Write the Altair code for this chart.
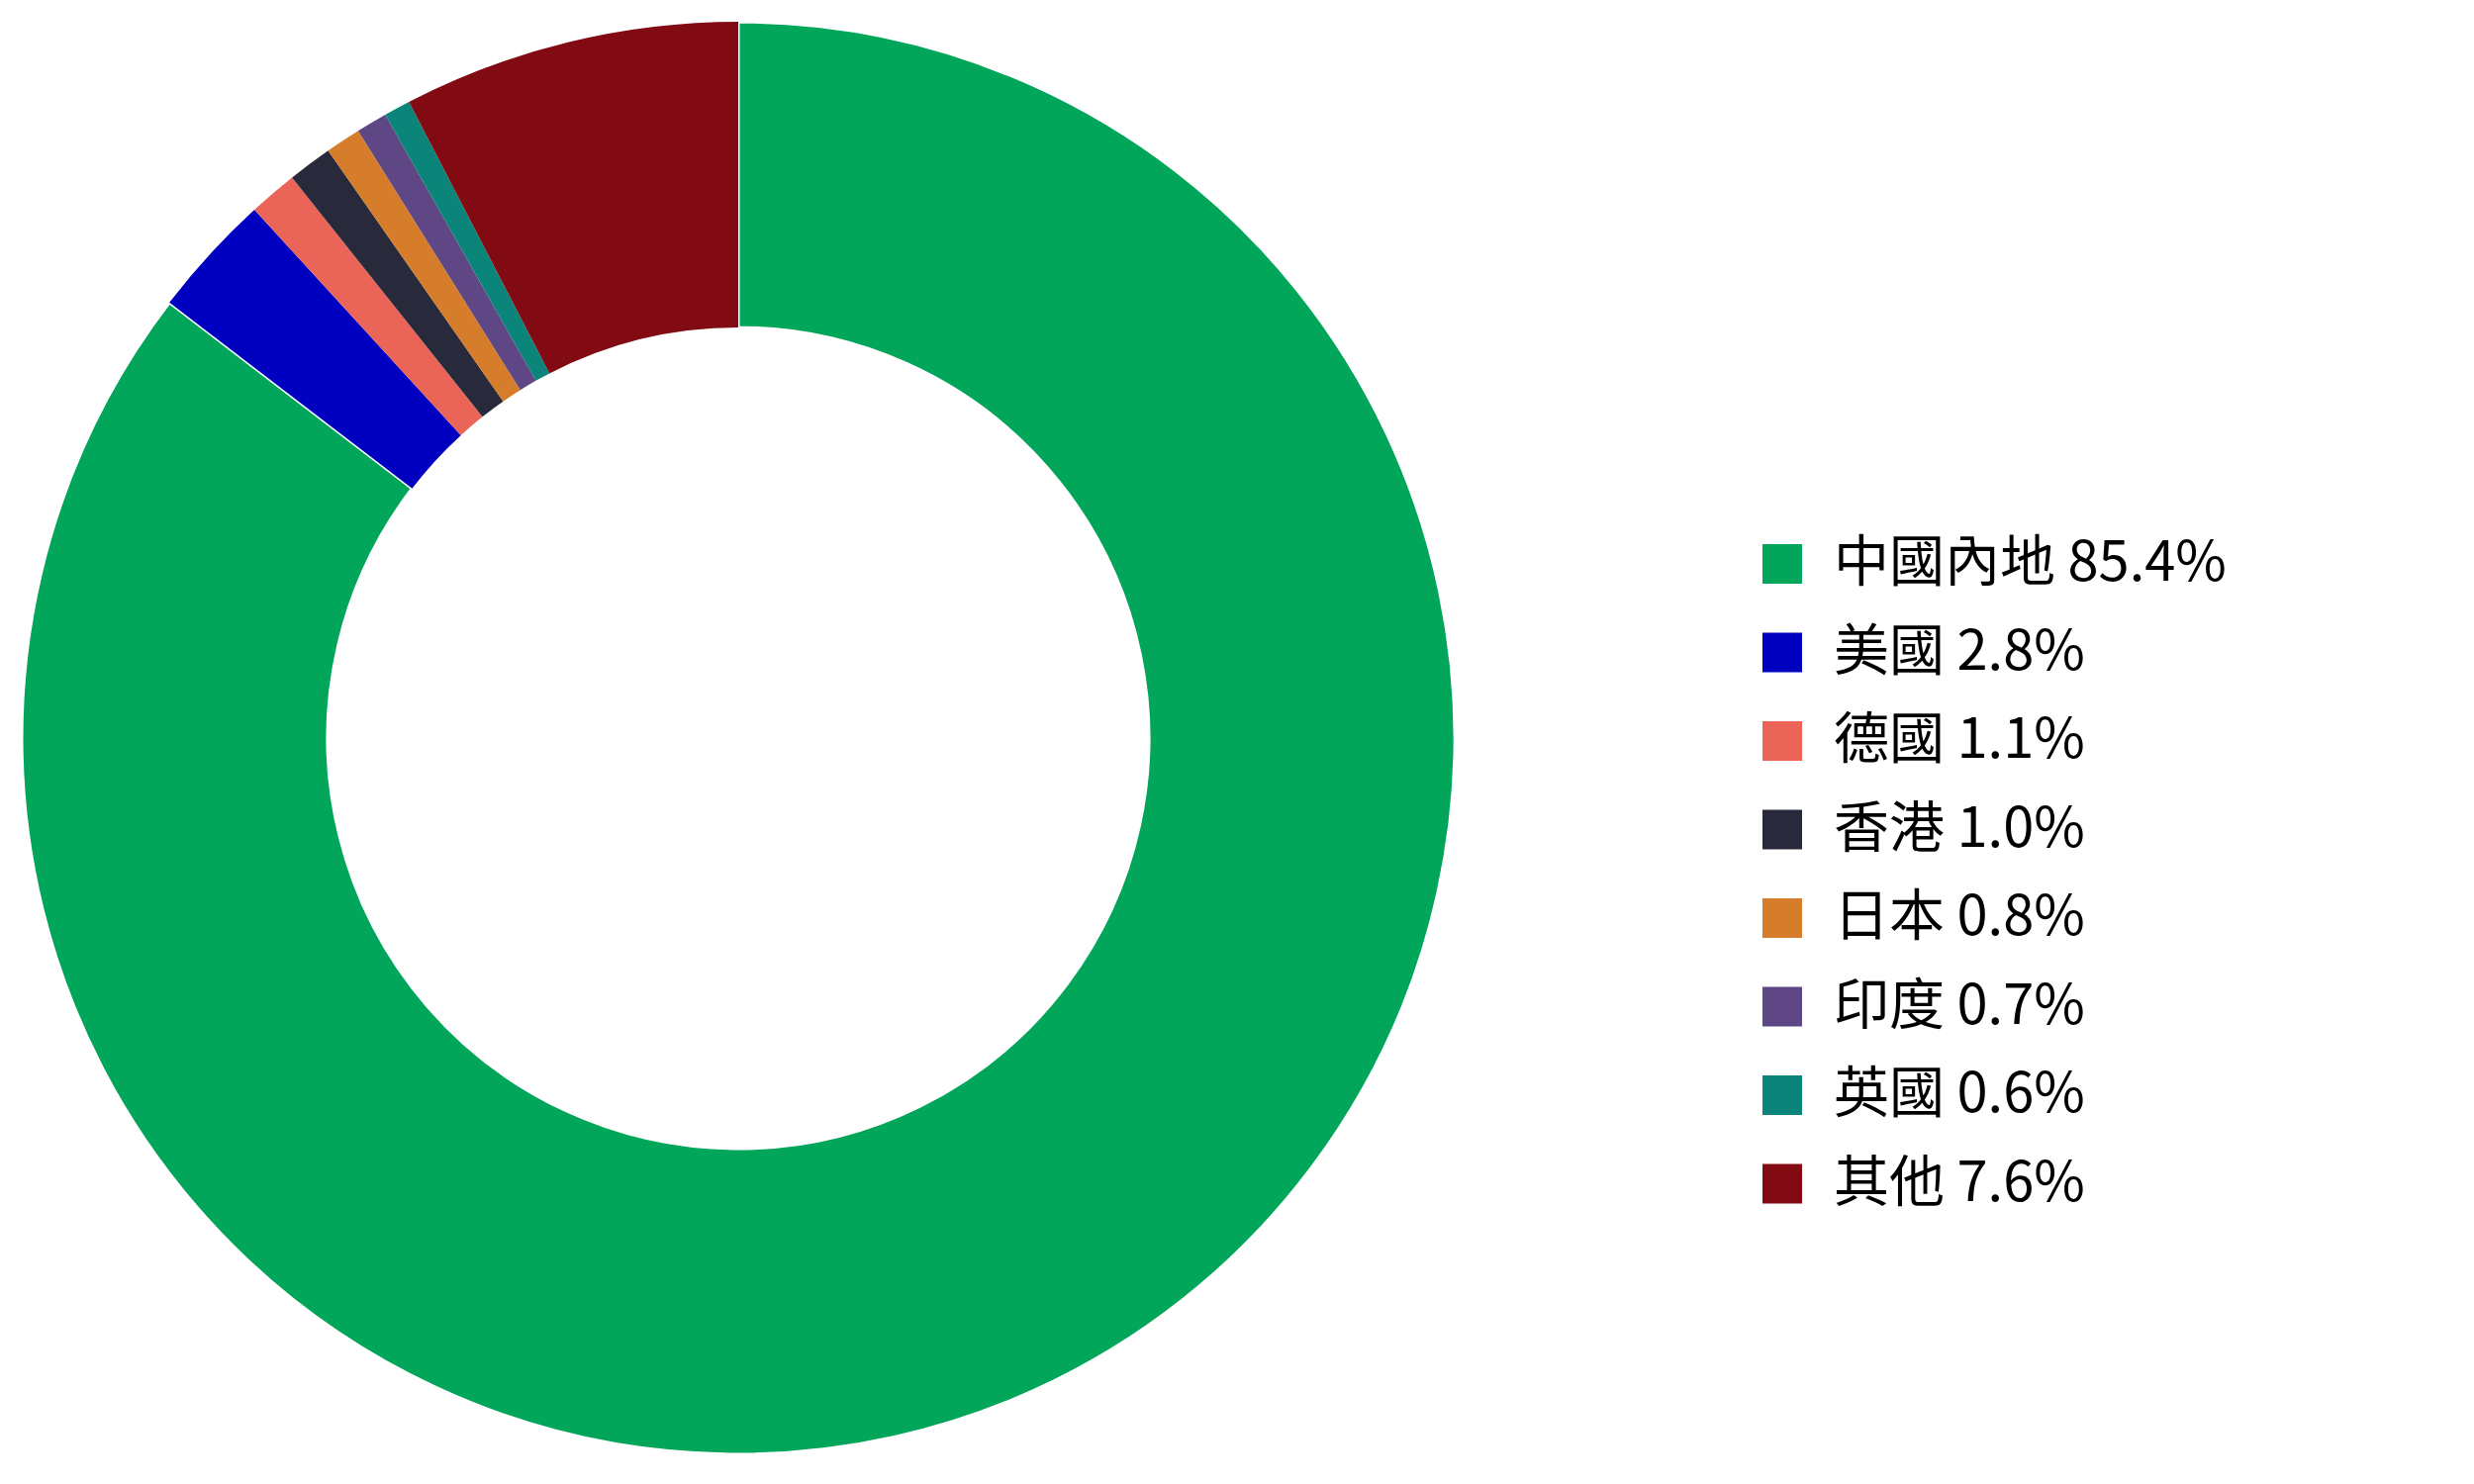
import altair as alt
import pandas as pd

countries = ["中國內地", "美國", "德國", "香港", "日本", "印度", "英國", "其他"]
values = [85.4, 2.8, 1.1, 1.0, 0.8, 0.7, 0.6, 7.6]
colors = ["#02A65A", "#0000C0", "#EA6558", "#282A3C", "#D57D2A", "#5E4784", "#0B8579", "#820B13"]

labels = [f"{c} {v}%" for c, v in zip(countries, values)]
df = pd.DataFrame({"country": countries, "value": values, "label": labels, "order": list(range(len(countries)))})

chart = alt.Chart(df).mark_arc(outerRadius=724, innerRadius=415).encode(
    theta=alt.Theta("value:Q", stack=True),
    order=alt.Order("order:Q"),
    color=alt.Color(
        "label:N",
        scale=alt.Scale(domain=labels, range=colors),
        sort=labels,
        legend=alt.Legend(
            title=None,
            orient="none",
            legendX=1765,
            legendY=534,
            symbolType="square",
            symbolSize=1600,
            symbolStrokeWidth=0,
            labelFontSize=56,
            labelFont="Noto Sans CJK TC",
            labelColor="#000000",
            labelOffset=24,
            rowPadding=33.5,
            labelLimit=800,
        ),
    ),
    stroke=alt.condition(alt.datum.country == "中國內地", alt.value("white"), alt.value(None)),
    strokeWidth=alt.condition(alt.datum.country == "中國內地", alt.value(3), alt.value(0)),
).properties(width=1476, height=1476, padding=0).configure_view(stroke=None)

chart.save("out.html", embed_options={"renderer": "svg", "actions": False})
